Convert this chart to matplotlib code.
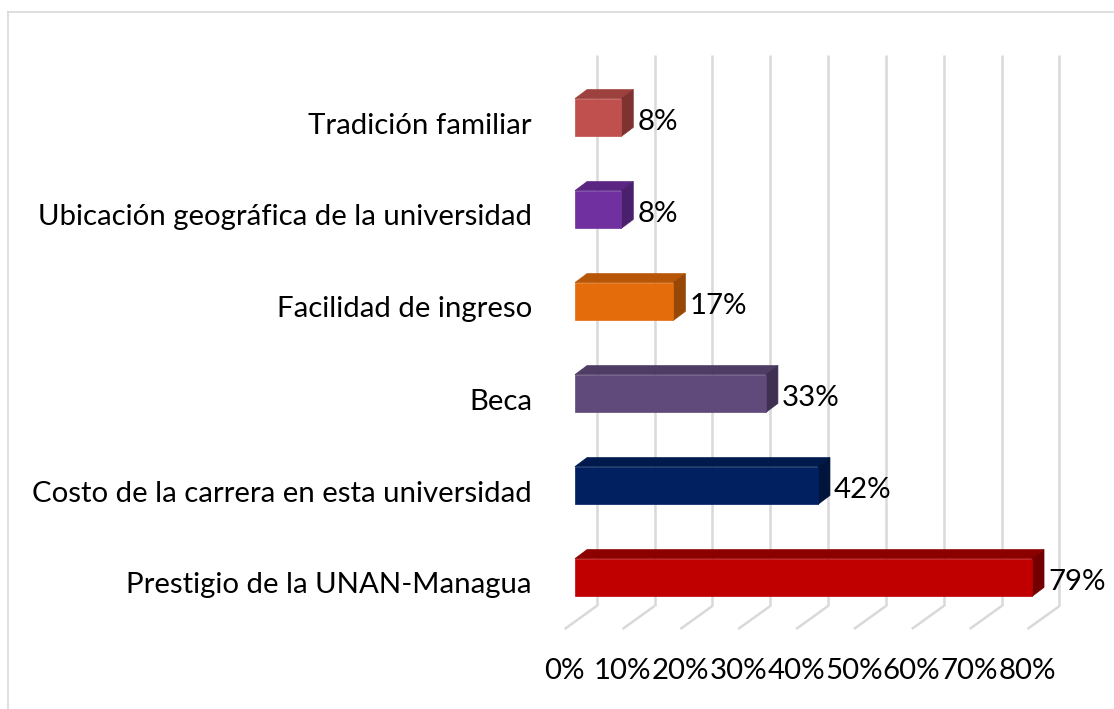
import matplotlib
matplotlib.use("Agg")
import matplotlib.pyplot as plt
from matplotlib.patches import Polygon
from matplotlib.lines import Line2D

categories = ["Prestigio de la UNAN-Managua",
              "Costo de la carrera en esta universidad",
              "Beca",
              "Facilidad de ingreso",
              "Ubicación geográfica de la universidad",
              "Tradición familiar"]
values = [79, 42, 33, 17, 8, 8]
value_labels = ["79%", "42%", "33%", "17%", "8%", "8%"]
tick_values = [0, 10, 20, 30, 40, 50, 60, 70, 80]
tick_labels = ["0%", "10%", "20%", "30%", "40%", "50%", "60%", "70%", "80%"]

front_colors = ["#C00000", "#002060", "#604A7B", "#E46C0A", "#7030A0", "#C0504D"]
top_colors = ["#8C0000", "#001A4E", "#4E3C65", "#B85608", "#5A2682", "#9C413E"]
side_colors = ["#730000", "#00143C", "#3F3052", "#974706", "#4A1F6B", "#7E3331"]

W, H = 1114, 709
fig = plt.figure(figsize=(W / 100, H / 100), dpi=100)
ax = fig.add_axes([0, 0, 1, 1])
ax.set_axis_off()

pxx = 5.785   # px per percent
pxy = 92.0    # px per category
x0 = 575.0
y0 = 577.5
ax.set_xlim(-x0 / pxx, (W - x0) / pxx)
ax.set_ylim(-(H - y0) / pxy, 5 + 117.5 / pxy)

family = "Lato"
# auto-fit font size to target width of longest label
fs = 20.0
t = fig.text(0, 0, categories[4], fontsize=fs, family=family)
fig.canvas.draw()
wpx = t.get_window_extent().width
fs = fs * 496.0 / wpx
t.remove()

grid_c = "#D9D9D9"
wall_off = 3.75
floor_y = (y0 - 606) / pxy
top_y = 5 + (117.5 - 55) / pxy
front_y = (y0 - 629) / pxy
diag_dx = -32 / pxx
for tv in tick_values:
    xb = tv + wall_off
    ax.plot([xb, xb], [floor_y, top_y], color=grid_c, lw=1.8, zorder=1,
            solid_capstyle="butt")
    ax.plot([xb, xb + diag_dx], [floor_y, front_y], color=grid_c, lw=1.8,
            zorder=1, solid_capstyle="butt")

ypos = list(range(len(categories)))
h = 37.8 / pxy
ddx = 12 / pxx
ddy = 9 / pxy
ax.barh(ypos, values, height=h, left=0, color=front_colors, zorder=3,
        edgecolor=[c for c in front_colors], linewidth=0.5)
for i, v in enumerate(values):
    y = ypos[i]
    top = Polygon([(0, y + h / 2), (v, y + h / 2), (v + ddx, y + h / 2 + ddy),
                   (ddx, y + h / 2 + ddy)], closed=True,
                  facecolor=top_colors[i], edgecolor=top_colors[i], lw=0.5, zorder=2)
    side = Polygon([(v, y - h / 2), (v, y + h / 2), (v + ddx, y + h / 2 + ddy),
                    (v + ddx, y - h / 2 + ddy)], closed=True,
                   facecolor=side_colors[i], edgecolor=side_colors[i], lw=0.5, zorder=2)
    ax.add_patch(top)
    ax.add_patch(side)
    ax.text(v + ddx + 4 / pxx, y - 5 / pxy, value_labels[i], fontsize=fs,
            family=family, va="center", ha="left", color="#000000", zorder=4)
    ax.text((532 - x0) / pxx, y - 8 / pxy, categories[i], fontsize=fs, family=family,
            va="center", ha="right", color="#000000")

tick_y = (y0 - 671) / pxy
for tv, tl in zip(tick_values, tick_labels):
    ax.text(tv - 1.8, tick_y, tl, fontsize=fs, family=family, va="center",
            ha="center", color="#000000")

# outer chart frame
fig.add_artist(Line2D([8 / W, 8 / W], [0, 1 - 12 / H], transform=fig.transFigure,
                      color=grid_c, lw=1.2))
fig.add_artist(Line2D([8 / W, 1], [1 - 12 / H, 1 - 12 / H], transform=fig.transFigure,
                      color=grid_c, lw=1.2))

fig.savefig("out.png", dpi=100)
